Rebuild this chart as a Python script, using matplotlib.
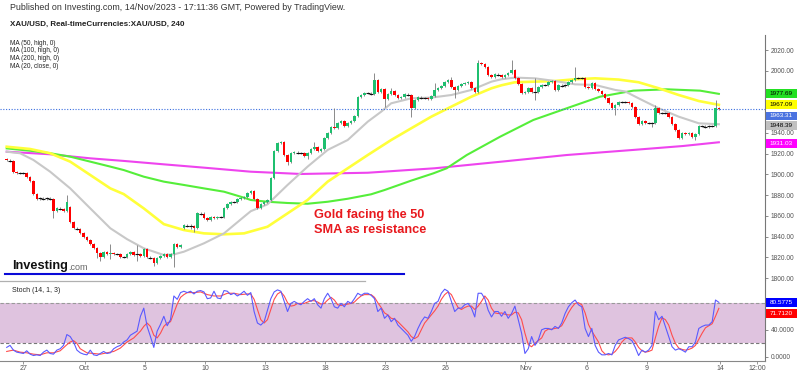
import matplotlib.pyplot as plt
import numpy as np
from matplotlib.patches import Rectangle
from matplotlib.lines import Line2D

plt.rcParams['font.family'] = ['Liberation Sans', 'DejaVu Sans']

# ---- 4h candles XAU/USD (27 Sep - 14 Nov 2023) ----
opens = [
    1915.0, 1913.9, 1913.2, 1902.6, 1901.0, 1901.7, 1901.5, 1897.8, 1893.6, 1880.7,
    1876.2, 1876.9, 1876.2, 1876.9, 1876.0, 1865.0, 1867.2, 1866.6, 1865.0, 1868.8,
    1854.3, 1847.9, 1847.3, 1843.1, 1839.9, 1836.6, 1832.8, 1829.2, 1823.8, 1819.9,
    1824.7, 1822.8, 1823.8, 1822.8, 1823.4, 1820.2, 1820.2, 1822.8, 1824.7, 1822.2,
    1822.8, 1821.2, 1827.9, 1819.9, 1819.6, 1814.1, 1819.6, 1821.2, 1823.4, 1820.2,
    1822.8, 1832.5, 1829.9, 1848.5, 1851.1, 1850.5, 1850.2, 1848.5, 1862.4, 1861.7,
    1857.6, 1856.0, 1859.2, 1857.9, 1859.2, 1859.2, 1867.2, 1871.1, 1873.6, 1873.6,
    1876.2, 1877.5, 1878.5, 1881.7, 1883.9, 1876.2, 1867.9, 1871.1, 1873.6, 1875.3,
    1896.2, 1922.6, 1930.0, 1931.6, 1918.7, 1911.6, 1920.3, 1921.3, 1920.6, 1920.3,
    1918.1, 1920.3, 1924.5, 1926.7, 1922.6, 1924.5, 1934.8, 1939.6, 1946.1, 1945.1,
    1949.3, 1951.5, 1947.0, 1949.3, 1951.5, 1956.7, 1975.0, 1976.6, 1978.9, 1978.2,
    1977.3, 1991.1, 1979.8, 1982.4, 1972.8, 1977.3, 1980.8, 1976.6, 1973.4, 1975.0,
    1977.3, 1976.6, 1963.8, 1971.8, 1975.0, 1974.1, 1974.1, 1972.4, 1976.0, 1981.5,
    1983.7, 1985.6, 1988.9, 1991.1, 1984.7, 1981.5, 1985.6, 1986.9, 1987.9, 1988.9,
    1983.1, 1979.8, 2007.2, 2006.2, 2004.0, 1995.9, 1994.3, 1996.6, 1995.9, 1994.3,
    1995.9, 1997.5, 2000.8, 1992.7, 1986.9, 1978.2, 1979.8, 1983.7, 1979.8, 1979.2,
    1984.7, 1986.3, 1986.3, 1988.9, 1990.1, 1981.5, 1986.3, 1985.6, 1986.3, 1988.9,
    1991.1, 1992.7, 1992.7, 1992.7, 1984.7, 1983.7, 1987.9, 1982.4, 1980.5, 1977.3,
    1973.4, 1968.6, 1964.4, 1967.0, 1969.6, 1969.6, 1969.6, 1968.6, 1965.4, 1955.7,
    1948.3, 1951.5, 1949.3, 1949.3, 1949.3, 1963.8, 1958.9, 1959.6, 1959.6, 1955.7,
    1948.3, 1942.8, 1935.4, 1939.6, 1938.6, 1939.6, 1936.4, 1938.6, 1947.0, 1947.0,
    1946.1, 1946.7, 1946.7, 1964.4]
closes = [
    1913.9, 1913.2, 1902.6, 1901.0, 1901.7, 1901.5, 1897.8, 1893.6, 1880.7, 1876.2,
    1876.9, 1876.2, 1876.9, 1876.0, 1865.0, 1867.2, 1866.6, 1865.0, 1873.6, 1854.3,
    1847.9, 1847.3, 1843.1, 1839.9, 1836.6, 1832.8, 1829.2, 1823.8, 1819.9, 1824.7,
    1822.8, 1823.8, 1822.8, 1823.4, 1820.2, 1820.2, 1822.8, 1824.7, 1822.2, 1822.8,
    1821.2, 1827.9, 1819.9, 1819.6, 1814.1, 1819.6, 1821.2, 1823.4, 1820.2, 1822.8,
    1832.5, 1829.9, 1831.8, 1851.1, 1850.5, 1850.2, 1848.5, 1862.4, 1861.7, 1857.6,
    1856.0, 1859.2, 1857.9, 1859.2, 1859.2, 1867.2, 1871.1, 1873.6, 1873.6, 1876.2,
    1877.5, 1878.5, 1881.7, 1883.9, 1876.2, 1867.9, 1871.1, 1873.6, 1875.3, 1896.2,
    1922.6, 1930.0, 1931.6, 1918.7, 1911.6, 1920.3, 1921.3, 1920.6, 1920.3, 1918.1,
    1920.3, 1924.5, 1926.7, 1922.6, 1924.5, 1934.8, 1939.6, 1946.1, 1945.1, 1949.3,
    1951.5, 1947.0, 1949.3, 1951.5, 1956.7, 1975.0, 1976.6, 1978.9, 1978.2, 1977.3,
    1991.1, 1979.8, 1982.4, 1972.8, 1977.3, 1980.8, 1976.6, 1973.4, 1975.0, 1977.3,
    1976.6, 1963.8, 1971.8, 1975.0, 1974.1, 1974.1, 1972.4, 1976.0, 1981.5, 1983.7,
    1985.6, 1988.9, 1991.1, 1984.7, 1981.5, 1985.6, 1986.9, 1987.9, 1988.9, 1983.1,
    1979.8, 2007.2, 2006.2, 2004.0, 1995.9, 1994.3, 1996.6, 1995.9, 1994.3, 1995.9,
    1997.5, 2000.8, 1992.7, 1986.9, 1978.2, 1979.8, 1983.7, 1979.8, 1979.2, 1984.7,
    1986.3, 1986.3, 1988.9, 1990.1, 1981.5, 1986.3, 1985.6, 1986.3, 1988.9, 1991.1,
    1992.7, 1992.7, 1992.7, 1984.7, 1983.7, 1987.9, 1982.4, 1980.5, 1977.3, 1973.4,
    1968.6, 1964.4, 1967.0, 1969.6, 1969.6, 1969.6, 1968.6, 1965.4, 1955.7, 1948.3,
    1951.5, 1949.3, 1949.3, 1949.3, 1963.8, 1958.9, 1959.6, 1959.6, 1955.7, 1948.3,
    1942.8, 1935.4, 1939.6, 1938.6, 1939.6, 1936.4, 1938.6, 1947.0, 1947.0, 1946.1,
    1946.7, 1946.7, 1964.4, 1963.3]
# wick length above / below the body, in dollars
wick_up = [
    1, 1, 1, 1, 1, 1, 1, 1, 1, 1, 1, 1, 1, 1, 1, 1, 1, 1, 6.5, 1,
    1, 1, 1, 1, 1, 1, 1, 1, 1, 1, 1, 8.7, 1, 1, 1, 1, 1, 1, 1, 9,
    1, 1, 1, 1, 1, 1, 1, 1, 1, 1, 1, 1, 1, 1, 1, 2, 1, 1, 1, 2.3,
    1, 1, 1, 1, 1, 1, 1, 1, 1, 1, 1, 1, 1, 1, 1, 1, 1, 1, 1, 1,
    1, 1, 1, 1, 1, 1, 1, 1, 1, 1, 1, 1, 4.9, 1, 1, 1, 1, 1, 17.7, 1,
    1, 1, 1, 1, 1, 1, 1, 1, 1, 1, 6.4, 1, 1, 1, 1, 2.9, 1, 1, 1, 1,
    1, 1, 1, 1, 1, 1, 1, 1, 6.4, 1, 1, 1, 1, 2.6, 1, 1, 1, 1, 1, 1,
    1, 3.2, 1, 1, 1, 1, 1, 1, 1, 1, 1, 9.6, 1, 1, 1, 1, 1, 1, 12.9, 1,
    1, 1, 1, 1, 1, 1, 1, 1, 1, 1, 11.3, 1, 1, 1, 1, 1, 1, 1, 1, 1,
    1, 1, 1, 1, 1, 1, 1, 1, 1, 1, 1, 1, 1, 1, 3.2, 1, 1, 1, 1, 1,
    1, 1, 1, 1, 1, 1, 1, 1, 1, 1, 1, 1, 7.4, 1]
wick_dn = [
    1, 1, 1, 1, 1, 1, 1, 1, 1, 1, 1, 1, 1, 1, 7, 1, 1, 1, 1, 1,
    1, 1, 1, 1, 1, 1, 1, 4.8, 3.5, 1, 1, 4.5, 1, 1, 1, 1, 1, 1, 1, 5.8,
    1, 1, 1, 1, 2.2, 1, 1, 1, 1, 1, 11.9, 1, 1, 1, 1, 3, 3.8, 1, 1, 1,
    1, 1, 1, 1, 1, 1, 1, 1, 1, 1, 1, 1, 1, 1, 1, 1, 1, 1, 1, 1,
    1, 1, 1, 1, 2.6, 1, 1, 1, 1, 1, 3.3, 1, 1, 1, 1, 1, 1, 1, 1, 1,
    1, 1, 1, 1, 1, 1, 1, 1, 1, 1, 1, 1, 1, 7.4, 1, 1, 1, 1, 1, 1,
    1, 8.1, 1, 1, 1, 1, 1, 1, 1, 1, 1, 1, 1, 1, 8.1, 1, 1, 1, 1, 1,
    1, 1, 1, 1, 1, 1, 1, 1, 1, 1, 1, 1, 1, 1, 1, 1, 1, 1, 7.4, 1,
    1, 1, 1, 1, 1, 1, 1, 1, 1, 1, 1, 1, 1, 1, 1, 1, 1, 1, 1, 1,
    1, 1, 7.1, 1, 1, 1, 1, 1, 1, 1, 1, 1, 1, 3.2, 1, 1, 1, 1, 1, 1,
    1, 1, 1, 1, 1, 1, 3.2, 1, 1, 1, 1, 1, 1, 1]

# ---- moving averages (candle index, price) ----
ma20_x = [0, 4, 8, 13, 19, 25, 31, 36, 41, 47, 50, 53, 59, 65, 71, 73, 78, 84, 90, 96,
          102, 108, 112, 115, 121, 127, 133, 139, 145, 148, 152, 158, 164, 170, 176,
          182, 185, 189, 195, 201, 207, 213]
ma20_y = [1921.9, 1920.4, 1913.9, 1902.6, 1886.5, 1867.2, 1848.0, 1837.5, 1828.7, 1822.2,
          1822.8, 1825.4, 1833.5, 1843.1, 1859.2, 1864.5, 1871.1, 1889.8, 1907.5, 1923.6,
          1933.2, 1950.9, 1960.5, 1968.6, 1973.4, 1974.1, 1976.6, 1981.5, 1989.5, 1991.8,
          1993.4, 1992.7, 1990.1, 1986.9, 1986.3, 1981.5, 1980.0, 1973.4, 1963.8, 1955.7,
          1949.3, 1948.4]
ma50_x = [0, 7, 13, 19, 25, 31, 35, 41, 47, 53, 59, 65, 71, 78, 84, 90, 96, 102, 108,
          115, 121, 127, 133, 139, 145, 148, 152, 158, 164, 170, 176, 183, 189, 195,
          201, 207, 213]
ma50_y = [1926.7, 1924.5, 1920.4, 1912.3, 1899.4, 1886.5, 1881.0, 1867.2, 1852.0, 1846.3,
          1843.1, 1842.2, 1843.1, 1849.5, 1862.4, 1875.3, 1893.0, 1905.9, 1918.7, 1933.2,
          1944.5, 1955.7, 1965.4, 1975.0, 1983.1, 1986.0, 1988.9, 1989.5, 1990.1, 1991.8,
          1992.7, 1991.5, 1988.9, 1983.1, 1976.6, 1970.8, 1967.1]
ma100_x = [0, 7, 13, 19, 25, 31, 35, 41, 47, 53, 59, 65, 71, 73, 78, 84, 90, 96, 102,
           109, 113, 121, 127.6, 131.6, 137.6, 147.6, 157.5, 167.5, 177.5, 187.4, 197.4,
           207.4, 213]
ma100_y = [1925.1, 1922.8, 1920.4, 1917.1, 1912.3, 1907.5, 1904.2, 1897.8, 1893.0, 1889.8,
           1886.5, 1883.3, 1877.5, 1875.3, 1873.6, 1872.4, 1871.7, 1873.6, 1876.5, 1880.8,
           1884.9, 1894.0, 1901.0, 1905.9, 1918.7, 1936.4, 1952.5, 1963.8, 1975.0, 1980.8,
           1982.1, 1980.8, 1977.7]
ma200_x = [0, 13, 25, 35, 47, 59, 73, 88, 108, 128, 148, 167.5, 187.4, 202.3, 213]
ma200_y = [1921.9, 1919.4, 1915.5, 1913.0, 1909.7, 1906.5, 1902.6, 1900.4, 1901.6, 1905.9,
           1912.3, 1918.7, 1923.6, 1927.4, 1931.0]

# ---- stochastic (14, 1, 3) ----
stoch_k = [
    14, 17, 10, 7, 6, 5, 9, 4, 2, 3, 2, 7, 10, 5, 4, 10, 12, 17, 33, 30,
    22, 10, 6, 4, 3, 10, 3, 2, 5, 8, 5, 6, 12, 15, 17, 22, 25, 32, 35, 38,
    60, 72, 45, 30, 14, 38, 48, 60, 46, 55, 90, 85, 95, 97, 95, 97, 93, 97, 98, 96,
    86, 87, 97, 87, 86, 98, 97, 92, 94, 90, 93, 97, 91, 95, 67, 50, 47, 52, 69, 86,
    96, 99, 97, 82, 67, 79, 82, 79, 77, 82, 86, 82, 86, 77, 72, 86, 94, 86, 74, 72,
    79, 74, 82, 79, 86, 94, 91, 94, 94, 91, 86, 67, 72, 57, 62, 52, 57, 47, 42, 37,
    32, 23, 30, 42, 52, 59, 57, 67, 79, 82, 94, 100, 97, 82, 67, 72, 72, 77, 79, 72,
    59, 94, 94, 86, 69, 59, 67, 67, 60, 67, 57, 64, 75, 55, 35, 5, 12, 30, 17, 25,
    40, 42, 42, 40, 45, 42, 50, 64, 74, 80, 84, 77, 74, 42, 30, 42, 17, 7, 3, 3,
    5, 3, 17, 25, 27, 29, 27, 24, 14, 2, 10, 7, 10, 17, 67, 55, 60, 45, 30, 15,
    10, 12, 10, 7, 15, 15, 22, 42, 45, 47, 47, 52, 84, 80.58]
stoch_d_x = [0, 2, 4, 6, 8, 10, 12, 14, 16, 18, 19, 20, 21, 22, 24, 26, 28, 30, 32, 34,
             36, 38, 40, 41, 42, 43, 44, 45, 46, 47, 48, 49, 50, 51, 52, 53, 54, 56, 58,
             60, 62, 64, 66, 68, 70, 72] + list(range(73, 214))
stoch_d = [8, 10, 7, 6, 4, 3, 6, 6, 9, 18, 22, 24, 20, 12, 6, 5, 4, 6, 8, 13,
           22, 28, 38, 45, 50, 45, 32, 28, 35, 45, 50, 52, 65, 78, 88, 92, 95, 95, 96,
           92, 90, 90, 94, 94, 92, 93,
           93, 85, 70, 55, 50, 55, 70, 85, 93, 96, 90, 80, 75, 76, 79, 79, 79, 81, 83,
           83, 81, 78, 79, 84, 88, 84, 77, 76, 77, 78, 79, 81, 86, 90, 92, 92, 92, 88,
           80, 73, 65, 62, 57, 56, 52, 47, 42, 37, 30, 27, 30, 40, 50, 56, 62, 68, 75,
           85, 92, 96, 92, 82, 73, 70, 73, 75, 75, 70, 75, 82, 90, 84, 72, 65, 64, 65,
           63, 62, 62, 66, 65, 55, 35, 18, 15, 20, 24, 28, 38, 41, 41, 42, 43, 46, 55,
           65, 73, 79, 80, 77, 65, 48, 38, 30, 22, 9, 4, 3, 4, 8, 14, 22, 27, 28, 28,
           22, 14, 9, 7, 8, 10, 28, 45, 58, 55, 47, 32, 20, 13, 11, 10, 11, 13, 17, 26,
           35, 43, 46, 49, 60, 71.71]

# x-axis labels (candle index)
date_pos = [4.9, 23.3, 41.4, 59.3, 77.4, 95.3, 113.2, 131.3, 155.1, 173.5, 191.4, 213.3, 224.5]
date_lbl = ['27', 'Oct', '5', '10', '13', '18', '23', '26', 'Nov', '6', '9', '14', '12:00']

# last values shown in the right-hand boxes
price_tags = ['1977.69', '1967.09', '1963.31', '1948.39', '1931.03']
last_price = 1963.31
stoch_tags = ['80.5775', '71.7120']

W, H = 800, 376
fig = plt.figure(figsize=(W / 100, H / 100), dpi=100)


def rect(x0, y0, x1, y1):
    return [x0 / W, 1 - y1 / H, (x1 - x0) / W, (y1 - y0) / H]


ax = fig.add_axes(rect(0, 35, 765, 280))
ax2 = fig.add_axes(rect(0, 280, 765, 361))
for a in (ax, ax2):
    a.set_xlim(-2.0, 226.8)
    for s in ('left', 'top', 'bottom'):
        a.spines[s].set_visible(False)
    a.spines['right'].set_color('#777777')
    a.spines['right'].set_linewidth(0.8)
    a.yaxis.tick_right()
    a.tick_params(axis='y', direction='out', length=2.5, width=0.6, color='#777777',
                  labelsize=4.8, labelcolor='#555555', pad=1.5)

# candles
idx = np.arange(len(closes))
o = np.array(opens)
c = np.array(closes)
hi = np.maximum(o, c) + np.array(wick_up)
lo = np.minimum(o, c) - np.array(wick_dn)
up = c > o + 0.9
dn = c < o - 0.9
doji = ~(up | dn)

ax.plot(ma200_x, ma200_y, color='#ee44ee', lw=1.5, zorder=1)
ax.plot(ma100_x, ma100_y, color='#55ee3a', lw=1.5, zorder=1)
ax.plot(ma50_x, ma50_y, color='#ffff3a', lw=1.9, zorder=1)
ax.plot(ma20_x, ma20_y, color='#c8c8c8', lw=1.5, zorder=1)

ax.vlines(idx, lo, hi, color='#777777', lw=0.6, zorder=2)
ax.bar(idx[up], (c - o)[up], bottom=o[up], width=0.75, color='#1fbf6f', lw=0, zorder=3)
ax.bar(idx[dn], (c - o)[dn], bottom=o[dn], width=0.75, color='#ff0000', lw=0, zorder=3)
ax.hlines(c[doji], idx[doji] - 0.6, idx[doji] + 0.6, color='#111111', lw=0.8, zorder=3)

ax.axhline(last_price, color='#3b6fe0', lw=0.8, ls=(0, (1, 1.5)), zorder=1)

ax.set_ylim(1798.1, 2034.5)
yt = np.arange(1800, 2021, 20)
ax.set_yticks(yt)
# 1960 and 1980 sit under the value boxes
ax.set_yticklabels(['' if v in (1960, 1980) else f'{v:.2f}' for v in yt])
ax.set_xticks([])

# stochastic panel
ax2.axhspan(20, 80, color='#dfc3df', lw=0, zorder=0)
ax2.axhline(80, color='#999999', lw=0.8, ls=(0, (3, 2)), zorder=1)
ax2.axhline(20, color='#777777', lw=0.8, ls=(0, (3, 2)), zorder=1)
ax2.plot(np.arange(len(stoch_k)), stoch_k, color='#5a5aff', lw=0.8, zorder=3)
ax2.plot(stoch_d_x, stoch_d, color='#ff4d4d', lw=0.8, zorder=2)
ax2.set_ylim(-6.1, 113.6)
ax2.set_yticks([0, 40, 80])
ax2.set_yticklabels(['0.0000', '40.0000', ''])
ax2.spines['bottom'].set_visible(True)
ax2.spines['bottom'].set_color('#888888')
ax2.spines['bottom'].set_linewidth(0.8)
ax2.set_xticks(date_pos)
ax2.set_xticklabels(date_lbl)
ax2.tick_params(axis='x', direction='out', length=2, width=0.6, color='#888888',
                labelsize=5, labelcolor='#555555', pad=1)

# texts
def ftext(x, y, s, **kw):
    fig.text(x / W, 1 - y / H, s, va='center', ha='left', **kw)


ftext(10, 8, 'Published on Investing.com, 14/Nov/2023 - 17:11:36 GMT, Powered by TradingView.',
      fontsize=6.4, color='#333333')
ftext(10, 24.5, 'XAU/USD, Real-timeCurrencies:XAU/USD, 240', fontsize=5.8,
      fontweight='bold', color='#222222')
for k, s in enumerate(['MA (50, high, 0)', 'MA (100, high, 0)', 'MA (200, high, 0)',
                       'MA (20, close, 0)']):
    ftext(10, 43.5 + 7.5 * k, s, fontsize=4.7, color='#222222')
ftext(12, 291, 'Stoch (14, 1, 3)', fontsize=5, color='#222222')
ftext(12.5, 266, 'Investing', fontsize=9.2, fontweight='bold', color='#111111')
ftext(68, 267.5, '.com', fontsize=6.5, color='#666666')
ftext(314, 215.5, 'Gold facing the 50', fontsize=9.2, fontweight='bold', color='#e8191e')
ftext(314, 230, 'SMA as resistance', fontsize=9.2, fontweight='bold', color='#e8191e')

fig.add_artist(Line2D([5 / W, 404 / W], [1 - 273.7 / H] * 2, color='#0a0ad8', lw=1.5,
                      transform=fig.transFigure))
fig.add_artist(Line2D([0, 365 / W], [1 - 280.5 / H] * 2, color='#b0b0b0', lw=0.9,
                      transform=fig.transFigure))

# value boxes on the right axis
tag_style = [('#22e022', '#000000', 93.3), ('#ffff00', '#000000', 104.5),
             ('#4a72e0', '#ffffff', 115.8), ('#c0c0c0', '#000000', 125.6),
             ('#ff00ff', '#ffffff', 143.3)]
stoch_style = [('#0000ff', '#ffffff', 302.5), ('#ff0000', '#ffffff', 313.5)]
for s, (bg, fg, yc) in list(zip(price_tags, tag_style)) + list(zip(stoch_tags, stoch_style)):
    fig.add_artist(Rectangle((765.5 / W, 1 - (yc + 4.2) / H), 31 / W, 8.4 / H,
                             facecolor=bg, edgecolor='none', transform=fig.transFigure,
                             zorder=5))
    fig.text(781 / W, 1 - yc / H, s, ha='center', va='center', fontsize=4.6, color=fg,
             zorder=6)

fig.savefig('out.png', dpi=100)
